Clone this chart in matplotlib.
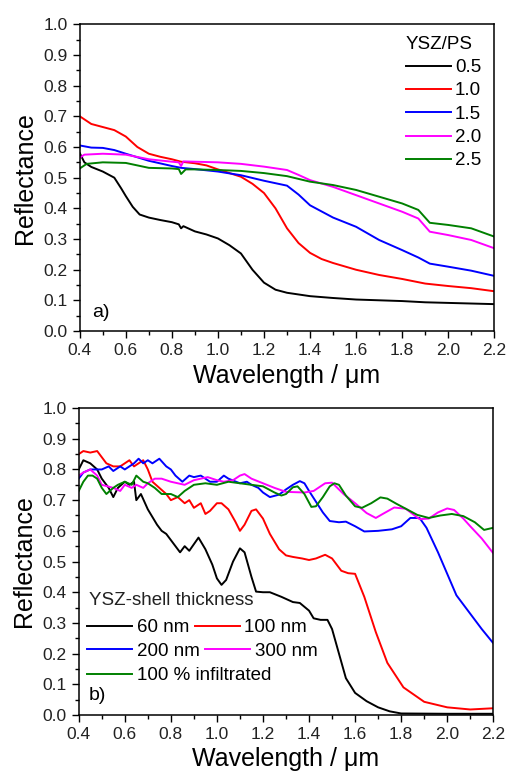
import matplotlib.pyplot as plt
import matplotlib
from matplotlib.ticker import MultipleLocator

matplotlib.rcParams['font.family'] = ['Liberation Sans', 'DejaVu Sans']

# ---- panel a) YSZ/PS ratio ----
xa_05 = [0.40, 0.42, 0.45, 0.50, 0.55, 0.58, 0.60, 0.63, 0.66, 0.70, 0.75, 0.80, 0.83, 0.84, 0.85,
         0.90, 0.95, 1.00, 1.05, 1.10, 1.15, 1.20, 1.25, 1.30, 1.40, 1.50, 1.60, 1.80, 1.90, 2.00, 2.20]
ya_05 = [0.58, 0.55, 0.535, 0.52, 0.50, 0.465, 0.44, 0.405, 0.38, 0.37, 0.362, 0.355, 0.348, 0.335, 0.342,
         0.325, 0.315, 0.302, 0.28, 0.253, 0.20, 0.158, 0.135, 0.125, 0.114, 0.108, 0.103, 0.098, 0.094, 0.092, 0.088]

xa_10 = [0.40, 0.42, 0.45, 0.50, 0.55, 0.60, 0.65, 0.70, 0.75, 0.80, 0.84, 0.90, 0.95, 1.00, 1.05, 1.10,
         1.15, 1.20, 1.25, 1.30, 1.35, 1.40, 1.45, 1.50, 1.60, 1.70, 1.80, 1.90, 2.00, 2.10, 2.20]
ya_10 = [0.70, 0.69, 0.675, 0.665, 0.655, 0.634, 0.60, 0.578, 0.568, 0.56, 0.552, 0.547, 0.54, 0.527, 0.515, 0.503,
         0.48, 0.45, 0.40, 0.335, 0.287, 0.255, 0.235, 0.222, 0.20, 0.183, 0.17, 0.155, 0.147, 0.14, 0.13]

xa_15 = [0.40, 0.45, 0.50, 0.55, 0.60, 0.70, 0.80, 0.84, 0.90, 1.00, 1.10, 1.20, 1.30, 1.35, 1.40, 1.50,
         1.60, 1.70, 1.80, 1.87, 1.92, 2.00, 2.10, 2.20]
ya_15 = [0.605, 0.598, 0.597, 0.59, 0.578, 0.555, 0.538, 0.532, 0.528, 0.52, 0.508, 0.49, 0.474, 0.445, 0.41, 0.37,
         0.34, 0.297, 0.264, 0.24, 0.22, 0.21, 0.197, 0.18]

xa_20 = [0.40, 0.42, 0.50, 0.60, 0.70, 0.80, 0.83, 0.84, 0.85, 0.90, 1.00, 1.10, 1.20, 1.30, 1.35,
         1.40, 1.50, 1.60, 1.70, 1.80, 1.87, 1.92, 2.00, 2.10, 2.20]
ya_20 = [0.565, 0.575, 0.578, 0.575, 0.56, 0.552, 0.55, 0.538, 0.553, 0.552, 0.55, 0.545, 0.536, 0.525, 0.509,
         0.492, 0.47, 0.443, 0.416, 0.389, 0.367, 0.324, 0.313, 0.297, 0.27]

xa_25 = [0.40, 0.43, 0.50, 0.60, 0.70, 0.80, 0.83, 0.84, 0.86, 0.90, 1.00, 1.10, 1.20, 1.30, 1.40,
         1.50, 1.60, 1.70, 1.80, 1.87, 1.92, 2.00, 2.10, 2.20]
ya_25 = [0.53, 0.545, 0.55, 0.548, 0.532, 0.53, 0.528, 0.512, 0.527, 0.527, 0.525, 0.522, 0.515, 0.505, 0.487,
         0.476, 0.46, 0.438, 0.416, 0.395, 0.353, 0.346, 0.335, 0.308]

labels_a = ['0.5', '1.0', '1.5', '2.0', '2.5']

# ---- panel b) YSZ-shell thickness ----
xb_60 = [0.40, 0.42, 0.45, 0.48, 0.50, 0.53, 0.55, 0.57, 0.60, 0.62, 0.64, 0.65, 0.67, 0.70, 0.74, 0.76,
         0.78, 0.80, 0.82, 0.84, 0.86, 0.88, 0.92, 0.95, 0.98, 1.00, 1.02, 1.04, 1.07, 1.10, 1.12, 1.15,
         1.17, 1.20, 1.23, 1.28, 1.33, 1.36, 1.40, 1.42, 1.45, 1.48, 1.50, 1.53, 1.56, 1.60, 1.65, 1.70,
         1.75, 1.80, 2.00, 2.20]
yb_60 = [0.80, 0.83, 0.82, 0.80, 0.77, 0.74, 0.71, 0.74, 0.76, 0.75, 0.76, 0.70, 0.72, 0.67, 0.62, 0.60,
         0.59, 0.57, 0.55, 0.53, 0.55, 0.535, 0.578, 0.54, 0.49, 0.445, 0.424, 0.44, 0.50, 0.543, 0.53, 0.45,
         0.402, 0.40, 0.40, 0.385, 0.368, 0.365, 0.34, 0.315, 0.31, 0.31, 0.28, 0.20, 0.12, 0.072, 0.045, 0.025,
         0.012, 0.005, 0.004, 0.004]

xb_100 = [0.40, 0.42, 0.45, 0.48, 0.50, 0.52, 0.55, 0.58, 0.60, 0.62, 0.64, 0.66, 0.68, 0.70, 0.72, 0.75,
          0.78, 0.80, 0.83, 0.86, 0.88, 0.90, 0.93, 0.95, 0.97, 1.00, 1.02, 1.05, 1.08, 1.10, 1.12, 1.15,
          1.17, 1.20, 1.23, 1.27, 1.30, 1.33, 1.37, 1.40, 1.43, 1.47, 1.50, 1.54, 1.57, 1.60, 1.64, 1.69,
          1.74, 1.81, 1.90, 2.00, 2.10, 2.20]
yb_100 = [0.85, 0.86, 0.855, 0.86, 0.84, 0.82, 0.81, 0.81, 0.82, 0.83, 0.81, 0.82, 0.83, 0.80, 0.76, 0.74,
          0.72, 0.70, 0.71, 0.69, 0.70, 0.675, 0.69, 0.655, 0.665, 0.69, 0.69, 0.67, 0.63, 0.60, 0.62, 0.665,
          0.67, 0.64, 0.59, 0.54, 0.52, 0.515, 0.51, 0.505, 0.51, 0.522, 0.51, 0.47, 0.462, 0.46, 0.385, 0.27,
          0.17, 0.09, 0.043, 0.025, 0.018, 0.022]

xb_200 = [0.40, 0.42, 0.45, 0.50, 0.53, 0.55, 0.58, 0.60, 0.62, 0.64, 0.66, 0.68, 0.70, 0.72, 0.75, 0.78,
          0.80, 0.82, 0.85, 0.88, 0.90, 0.93, 0.95, 0.97, 1.00, 1.03, 1.05, 1.10, 1.13, 1.15, 1.18, 1.20,
          1.23, 1.27, 1.30, 1.33, 1.36, 1.38, 1.40, 1.43, 1.46, 1.49, 1.53, 1.56, 1.60, 1.64, 1.70, 1.76,
          1.80, 1.84, 1.88, 1.91, 1.96, 2.00, 2.04, 2.10, 2.15, 2.20]
yb_200 = [0.77, 0.79, 0.80, 0.80, 0.81, 0.795, 0.81, 0.80, 0.81, 0.82, 0.835, 0.82, 0.83, 0.82, 0.835, 0.81,
          0.80, 0.78, 0.76, 0.78, 0.775, 0.78, 0.77, 0.76, 0.76, 0.78, 0.77, 0.755, 0.76, 0.75, 0.74, 0.725,
          0.71, 0.718, 0.735, 0.75, 0.762, 0.755, 0.73, 0.695, 0.66, 0.632, 0.628, 0.63, 0.615, 0.598, 0.60, 0.605,
          0.615, 0.642, 0.642, 0.61, 0.53, 0.46, 0.39, 0.33, 0.28, 0.234]

xb_300 = [0.40, 0.42, 0.45, 0.48, 0.50, 0.55, 0.58, 0.60, 0.63, 0.65, 0.68, 0.70, 0.73, 0.76, 0.80, 0.83,
          0.86, 0.90, 0.93, 0.96, 1.00, 1.03, 1.07, 1.10, 1.12, 1.15, 1.20, 1.25, 1.30, 1.38, 1.42, 1.47,
          1.50, 1.55, 1.60, 1.65, 1.69, 1.72, 1.77, 1.82, 1.88, 1.92, 1.96, 2.00, 2.03, 2.07, 2.10, 2.15, 2.20]
yb_300 = [0.78, 0.79, 0.80, 0.78, 0.75, 0.74, 0.73, 0.75, 0.74, 0.75, 0.74, 0.755, 0.77, 0.77, 0.76, 0.755,
          0.75, 0.765, 0.77, 0.775, 0.765, 0.76, 0.765, 0.78, 0.785, 0.77, 0.755, 0.74, 0.727, 0.725, 0.73, 0.755,
          0.757, 0.72, 0.69, 0.658, 0.642, 0.655, 0.676, 0.672, 0.638, 0.64, 0.66, 0.673, 0.668, 0.64, 0.615, 0.575, 0.527]

xb_inf = [0.40, 0.42, 0.44, 0.46, 0.48, 0.50, 0.52, 0.55, 0.57, 0.60, 0.63, 0.65, 0.68, 0.70, 0.73, 0.76,
          0.80, 0.83, 0.86, 0.90, 0.95, 1.00, 1.05, 1.10, 1.15, 1.20, 1.25, 1.28, 1.30, 1.33, 1.35, 1.38,
          1.41, 1.43, 1.46, 1.49, 1.51, 1.53, 1.56, 1.60, 1.63, 1.67, 1.71, 1.74, 1.78, 1.82, 1.87, 1.92,
          1.97, 2.02, 2.07, 2.12, 2.16, 2.20]
yb_inf = [0.73, 0.76, 0.78, 0.78, 0.77, 0.74, 0.72, 0.74, 0.75, 0.76, 0.75, 0.78, 0.76, 0.755, 0.74, 0.72,
          0.72, 0.71, 0.73, 0.75, 0.755, 0.75, 0.76, 0.755, 0.75, 0.745, 0.725, 0.715, 0.72, 0.742, 0.745, 0.72,
          0.678, 0.68, 0.71, 0.745, 0.755, 0.75, 0.715, 0.68, 0.675, 0.69, 0.709, 0.705, 0.688, 0.672, 0.652, 0.642,
          0.65, 0.655, 0.648, 0.628, 0.603, 0.61]

labels_b = ['60 nm', '100 nm', '200 nm', '300 nm', '100 % infiltrated']

colors = ['black', '#ff0000', '#0000ff', '#ff00ff', '#008000']

fig = plt.figure(figsize=(5.08, 7.81), dpi=100)
ax1 = fig.add_axes([0.157, 0.576, 0.816, 0.393])
ax2 = fig.add_axes([0.155, 0.0845, 0.816, 0.393])

series_a = [(xa_05, ya_05), (xa_10, ya_10), (xa_15, ya_15), (xa_20, ya_20), (xa_25, ya_25)]
series_b = [(xb_60, yb_60), (xb_100, yb_100), (xb_200, yb_200), (xb_300, yb_300), (xb_inf, yb_inf)]

lines_a = []
for (x, y), c, lab in zip(series_a, colors, labels_a):
    l, = ax1.plot(x, y, color=c, lw=1.4, label=lab)
    lines_a.append(l)

lines_b = []
for (x, y), c, lab in zip(series_b, colors, labels_b):
    l, = ax2.plot(x, y, color=c, lw=1.4, label=lab)
    lines_b.append(l)

for ax in (ax1, ax2):
    ax.set_xlim(0.4, 2.2)
    ax.set_ylim(0.0, 1.0)
    ax.xaxis.set_major_locator(MultipleLocator(0.2))
    ax.xaxis.set_minor_locator(MultipleLocator(0.1))
    ax.yaxis.set_major_locator(MultipleLocator(0.1))
    ax.yaxis.set_minor_locator(MultipleLocator(0.05))
    ax.tick_params(which='both', direction='out', top=False, right=False,
                   labelsize=12.5, labelcolor='#222222', width=1.0)
    ax.tick_params(which='major', length=5)
    ax.tick_params(which='minor', length=3)
    for s in ax.spines.values():
        s.set_linewidth(1.1)
    ax.set_xlabel('Wavelength / μm', fontsize=18, labelpad=4)
    ax.set_ylabel('Reflectance', fontsize=18, labelpad=5)

# legend a)
leg = ax1.legend(handles=lines_a, title='YSZ/PS', loc='upper right', bbox_to_anchor=(0.968, 0.962),
                 frameon=False, fontsize=13.5, title_fontsize=13.5, handlelength=2.4,
                 handletextpad=0.2, labelspacing=0.33, borderpad=0, borderaxespad=0,
                 alignment='left')
ax1.text(0.03, 0.06, 'a)', transform=ax1.transAxes, fontsize=14, va='center', ha='left')

# legend b) - row by row like the original
ax2.text(0.025, 0.372, 'YSZ-shell thickness', transform=ax2.transAxes, fontsize=13.5,
         va='center', ha='left', color='#222222')
rows = [[lines_b[0], lines_b[1]], [lines_b[2], lines_b[3]], [lines_b[4]]]
row_y = [0.285, 0.208, 0.128]
for hs, yy in zip(rows, row_y):
    lg = ax2.legend(handles=hs, loc='center left', bbox_to_anchor=(0.02, yy), ncol=len(hs),
                    frameon=False, fontsize=13.5, handlelength=2.4, handletextpad=0.25,
                    columnspacing=0.3, borderpad=0, borderaxespad=0)
    ax2.add_artist(lg)
ax2.legend_ = None
ax2.text(0.025, 0.065, 'b)', transform=ax2.transAxes, fontsize=14, va='center', ha='left')

plt.savefig('out.png', dpi=100)
